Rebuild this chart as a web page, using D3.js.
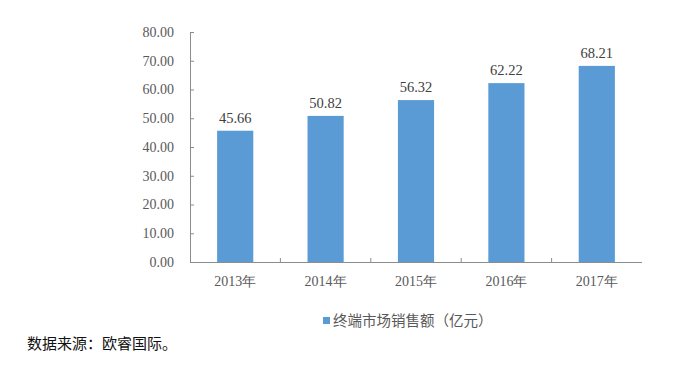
<!DOCTYPE html>
<html><head><meta charset="utf-8">
<script src="https://cdn.jsdelivr.net/npm/d3@7"></script>
<style>body{margin:0;background:#fff}svg{display:block}</style>
</head><body>
<svg id="c" width="700" height="368"></svg>
<script>
const categories = ["2013年","2014年","2015年","2016年","2017年"];
const values = [45.66, 50.82, 56.32, 62.22, 68.21];
const yTicks = [0,10,20,30,40,50,60,70,80];
const seriesName = "终端市场销售额（亿元）";
const sourceNote = "数据来源：欧睿国际。";

const svg = d3.select("#c");
const m = {left:190, right:642, top:32, bottom:262};
const x = d3.scaleBand().domain(categories).range([m.left, m.right]).paddingInner(0.6).paddingOuter(0.3);
const y = d3.scaleLinear().domain([0,80]).range([m.bottom, m.top]);
const grey = "#8c8c8c", txt = "#595959";
const serif = "'Liberation Serif','Times New Roman',serif";

svg.selectAll("rect.bar").data(values).join("rect").attr("class","bar")
  .attr("x",(d,i)=>x(categories[i])).attr("width",x.bandwidth())
  .attr("y",d=>y(d)).attr("height",d=>y(0)-y(d)).attr("fill","#5b9bd5");

svg.selectAll("text.val").data(values).join("text").attr("class","val")
  .attr("x",(d,i)=>x(categories[i])+x.bandwidth()/2).attr("y",d=>y(d)-8)
  .attr("text-anchor","middle").attr("font-family",serif).attr("font-size",14.5).attr("fill","#404040")
  .text(d=>d.toFixed(2));

// Y axis
const ya = svg.append("g").attr("transform",`translate(${m.left},0)`)
  .call(d3.axisLeft(y).tickValues(yTicks).tickSize(-4).tickPadding(16).tickFormat(d=>d.toFixed(2)).tickSizeOuter(0));
ya.select(".domain").attr("stroke",grey);
ya.selectAll(".tick line").attr("stroke",grey);
ya.selectAll(".tick text").attr("font-family",serif).attr("font-size",14).attr("fill",txt);

// X axis
const bounds = categories.map(c=>x(c)-x.step()*x.paddingInner()/2).slice(1);
const xa = svg.append("g").attr("transform",`translate(0,${m.bottom})`)
  .call(d3.axisBottom(x).tickSize(0).tickPadding(14).tickSizeOuter(0));
xa.select(".domain").attr("stroke",grey).attr("d",`M${m.left},0.5H${m.right}`);
xa.selectAll(".tick text").attr("font-family",serif).attr("font-size",14).attr("fill",txt);
xa.selectAll("line.sep").data(bounds).join("line").attr("class","sep")
  .attr("x1",d=>d).attr("x2",d=>d).attr("y1",0).attr("y2",-4).attr("stroke",grey);

// Legend
const lg = svg.append("g").attr("transform","translate(323,326)");
lg.append("rect").attr("x",0).attr("y",-9).attr("width",7).attr("height",7).attr("fill","#5b9bd5");
lg.append("text").attr("x",10).attr("y",0).attr("font-family","'Noto Sans CJK SC',sans-serif")
  .attr("font-size",14.5).attr("fill",txt).text(seriesName);

svg.append("text").attr("x",27).attr("y",349).attr("font-family","'Noto Sans CJK SC',sans-serif")
  .attr("font-size",15).attr("font-weight",400).attr("fill","#111").text(sourceNote);
</script>
</body></html>
